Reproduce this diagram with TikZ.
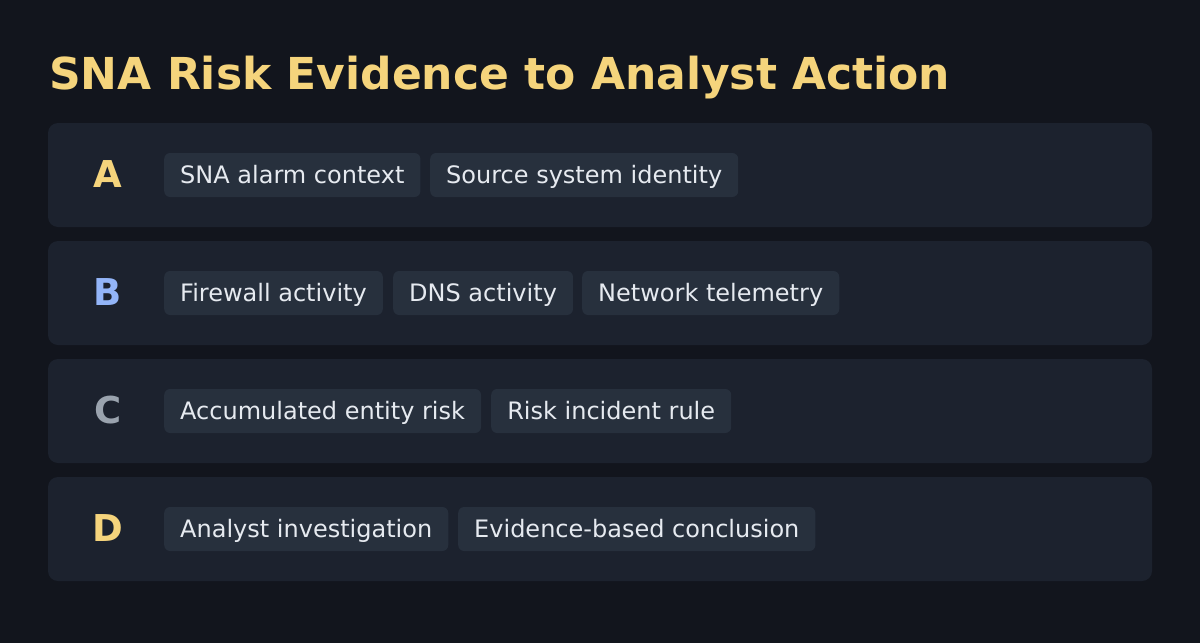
\documentclass[tikz,border=0pt]{standalone}
\usepackage{fontspec}
\setmainfont{DejaVu Sans}
\definecolor{bgc}{HTML}{12151D}
\definecolor{rowc}{HTML}{1C222E}
\definecolor{chipc}{HTML}{27303D}
\definecolor{txtc}{HTML}{E6EAF0}
\definecolor{goldc}{HTML}{F5D47C}
\definecolor{bluec}{HTML}{93B5F8}
\definecolor{grayc}{HTML}{9AA3AE}
\begin{document}
\begin{tikzpicture}[x=1pt,y=-1pt,
  rowbox/.style={fill=rowc,rounded corners=10pt,draw=none},
  chip/.style={fill=chipc,rounded corners=6pt,inner xsep=16pt,inner ysep=0pt,text height=28pt,text depth=10.5pt,minimum height=44pt,anchor=west,text=txtc,font=\fontsize{24}{28}\selectfont},
  letter/.style={anchor=base,inner sep=0pt,font=\fontsize{37}{42}\selectfont\bfseries}]
\fill[bgc] (0,0) rectangle (1200,643);
\useasboundingbox (0,0) rectangle (1200,643);
\node[anchor=base west,inner sep=0pt,text=goldc,font=\fontsize{44}{50}\selectfont\bfseries] (title) at (49,89) {SNA Risk Evidence to Analyst Action};
% rows
\fill[rowbox] (48,123) rectangle (1152,227);
\fill[rowbox] (48,241) rectangle (1152,345);
\fill[rowbox] (48,359) rectangle (1152,463);
\fill[rowbox] (48,477) rectangle (1152,581);
% letters
\node[letter,text=goldc] (la) at (108,187.5) {A};
\node[letter,text=bluec] (lb) at (108,305.5) {B};
\node[letter,text=grayc] (lc) at (108,423.5) {C};
\node[letter,text=goldc] (ld) at (108,541.5) {D};
% chips
\node[chip,minimum width=255pt] (a1) at (164,175) {SNA alarm context};
\node[chip,minimum width=308pt] (a2) at (430,175) {Source system identity};
\node[chip,minimum width=218pt] (b1) at (164,293) {Firewall activity};
\node[chip,minimum width=178pt] (b2) at (393,293) {DNS activity};
\node[chip,minimum width=256pt] (b3) at (582,293) {Network telemetry};
\node[chip,minimum width=316pt] (c1) at (164,411) {Accumulated entity risk};
\node[chip,minimum width=240pt] (c2) at (491,411) {Risk incident rule};
\node[chip,minimum width=283pt] (d1) at (164,529) {Analyst investigation};
\node[chip,minimum width=357pt] (d2) at (458,529) {Evidence-based conclusion};
\end{tikzpicture}
\end{document}
